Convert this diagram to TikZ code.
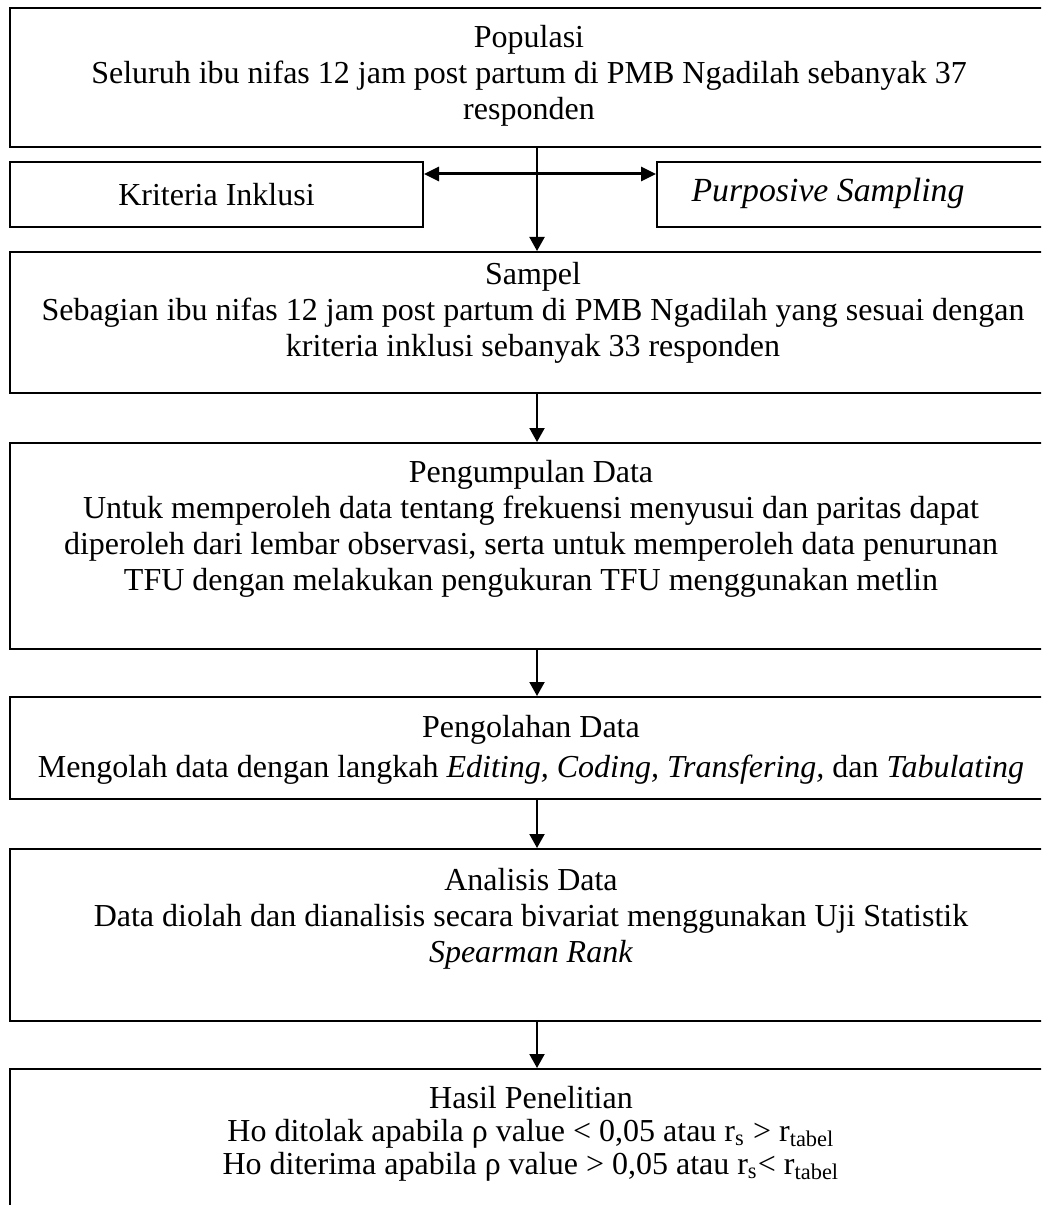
\documentclass[tikz,border=0pt]{standalone}
\usepackage{fontspec}
\setmainfont{Liberation Serif}
\usetikzlibrary{arrows.meta, positioning}
\tikzset{
  every picture/.style={line width=0.8pt},
  box/.style={draw, line width=0.8pt, inner sep=0pt, anchor=north west, minimum width=421.6pt},
  txt/.style={align=center, inner sep=0pt, anchor=north, font=\fontsize{12.8}{14.4}\selectfont},
  arrow/.style={-{Triangle[length=5.6pt, width=6pt]}, line width=0.8pt},
  twoway/.style={{Triangle[length=6pt, width=5.6pt]}-{Triangle[length=6pt, width=5.6pt]}, line width=1.2pt},
}
\begin{document}
\begin{tikzpicture}[x=0.4pt, y=-0.4pt]
  \clip (0,0) rectangle (1041,1205);
  % boxes, top to bottom
  \node[box, minimum height=55.6pt] (populasi) at (9,7) {};
  \node[box, minimum width=165.2pt, minimum height=26pt, font=\fontsize{12.8}{14.4}\selectfont] (kriteria) at (9,161) {Kriteria Inklusi};
  \node[box, minimum width=163.6pt, minimum height=26pt] (purposive) at (656,161) {};
  \node[box, minimum height=56.4pt] (sampel) at (9,251) {};
  \node[box, minimum height=82.4pt] (kumpul) at (9,442) {};
  \node[box, minimum height=40.8pt] (olah) at (9,696) {};
  \node[box, minimum height=68.8pt] (analisis) at (9,848) {};
  \node[box, minimum height=58.8pt] (hasil) at (9,1068) {};
  % texts
  \node[txt] (populasiTxt) at (529,24) {Populasi\\ Seluruh ibu nifas 12 jam post partum di PMB Ngadilah sebanyak 37\\ responden};
  \node[txt, anchor=center, font=\fontsize{13.5}{14.4}\selectfont] (purposiveTxt) at (828,193.5) {\textit{Purposive Sampling}};
  \node[txt] (sampelTxt) at (533,261) {Sampel\\ Sebagian ibu nifas 12 jam post partum di PMB Ngadilah yang sesuai dengan\\ kriteria inklusi sebanyak 33 responden};
  \node[txt] (kumpulTxt) at (531,459) {Pengumpulan Data\\ Untuk memperoleh data tentang frekuensi menyusui dan paritas dapat\\ diperoleh dari lembar observasi, serta untuk memperoleh data penurunan\\ TFU dengan melakukan pengukuran TFU menggunakan metlin};
  \node[txt] (olahTxt) at (531,714) {Pengolahan Data\\[1.6pt] Mengolah data dengan langkah \textit{Editing,} \textit{Coding,} \textit{Transfering,} dan \textit{Tabulating}};
  \node[txt] (analisisTxt) at (531,867) {Analisis Data\\ Data diolah dan dianalisis secara bivariat menggunakan Uji Statistik\\ \textit{Spearman Rank}};
  \node[txt] (hasilTxt) at (531,1085) {Hasil Penelitian\\[-1.2pt] Ho ditolak apabila ρ value < 0,05 atau r\textsubscript{s} > r\textsubscript{tabel}\\[-1.2pt] Ho diterima apabila ρ value > 0,05 atau r\textsubscript{s}< r\textsubscript{tabel}};
  % connectors
  \draw[twoway] ([yshift=-5.2pt]kriteria.north east) -- ([yshift=-5.2pt]purposive.north west);
  \draw[arrow] (populasi) -- (sampel);
  \draw[arrow] (sampel) -- (kumpul);
  \draw[arrow] (kumpul) -- (olah);
  \draw[arrow] (olah) -- (analisis);
  \draw[arrow] (analisis) -- (hasil);
\end{tikzpicture}
\end{document}
